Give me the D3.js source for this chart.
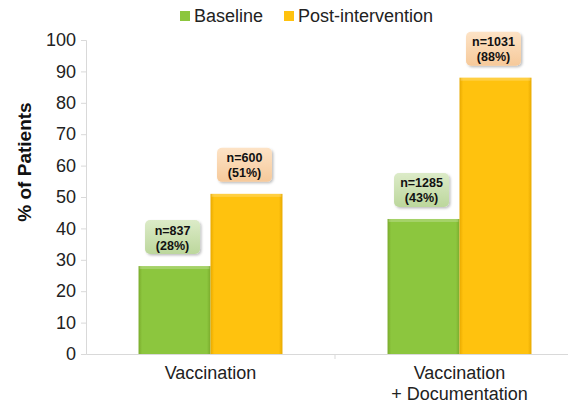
<!DOCTYPE html>
<html>
<head>
<meta charset="utf-8">
<script src="https://cdn.jsdelivr.net/npm/d3@7"></script>
<style>
  html, body { margin: 0; padding: 0; background: #fff; }
  svg { display: block; font-family: "Liberation Sans", Arial, sans-serif; }
</style>
</head>
<body>
<svg id="chart" width="568" height="403"></svg>
<script>
// Patients by intervention group and period
const categories = ["Vaccination", "Vaccination\n+ Documentation"];
const seriesNames = ["Baseline", "Post-intervention"];
const baselinePct = [28, 43];
const postPct = [51, 88];
const baselineN = [837, 1285];
const postN = [600, 1031];
const yTicks = [0, 10, 20, 30, 40, 50, 60, 70, 80, 90, 100];

const svg = d3.select("#chart");
const margin = { left: 86, top: 40, bottom: 49 };
const H = 403;
const plotW = 498;

const x = d3.scaleBand().domain(categories).range([margin.left, margin.left + plotW]).paddingInner(0).paddingOuter(0);
const xs = d3.scaleBand().domain(seriesNames).range([0, x.bandwidth()]).paddingInner(0).paddingOuter(0.73);
const y = d3.scaleLinear().domain([0, 100]).range([H - margin.bottom, margin.top]);

const defs = svg.append("defs");
function barGrad(id, edge, mid) {
  const g = defs.append("linearGradient").attr("id", id).attr("x1", 0).attr("x2", 1).attr("y1", 0).attr("y2", 0);
  g.append("stop").attr("offset", "0%").attr("stop-color", edge);
  g.append("stop").attr("offset", "5%").attr("stop-color", mid);
  g.append("stop").attr("offset", "95%").attr("stop-color", mid);
  g.append("stop").attr("offset", "100%").attr("stop-color", edge);
}
barGrad("gGreen", "#7aab2c", "#8cc63e");
barGrad("gYellow", "#e8a900", "#ffc20e");
function boxGrad(id, top, bot) {
  const g = defs.append("linearGradient").attr("id", id).attr("x1", 0).attr("x2", 0).attr("y1", 0).attr("y2", 1);
  g.append("stop").attr("offset", "0%").attr("stop-color", top);
  g.append("stop").attr("offset", "100%").attr("stop-color", bot);
}
boxGrad("bGreen", "#dcebc8", "#bcd79c");
boxGrad("bOrange", "#fde3c6", "#f6c99a");
const f = defs.append("filter").attr("id", "shadow").attr("x", "-20%").attr("y", "-20%").attr("width", "150%").attr("height", "150%");
f.append("feDropShadow").attr("dx", 1.5).attr("dy", 1.5).attr("stdDeviation", 1.2).attr("flood-color", "#000").attr("flood-opacity", 0.25);

// Y axis
const yAxis = d3.axisLeft(y).tickValues(yTicks).tickSize(5).tickPadding(5);
const gy = svg.append("g").attr("transform", `translate(${margin.left},0)`).call(yAxis);
gy.select(".domain").attr("stroke", "#d9d9d9");
gy.selectAll(".tick line").attr("stroke", "#d9d9d9");
gy.selectAll(".tick text").attr("font-size", 18).attr("fill", "#222").attr("font-family", "Liberation Sans, Arial, sans-serif");

// X axis
const gx = svg.append("g").attr("transform", `translate(0,${y(0)})`)
  .call(d3.axisBottom(x).tickSize(0).tickFormat(""));
gx.select(".domain").attr("stroke", "#d9d9d9");
gx.selectAll(".tick").remove();
// divider tick between categories
gx.append("line").attr("x1", x(categories[1])).attr("x2", x(categories[1])).attr("y1", 0).attr("y2", 5).attr("stroke", "#d9d9d9");

// Category labels
categories.forEach(c => {
  const cx = x(c) + x.bandwidth() / 2;
  const t = svg.append("text").attr("text-anchor", "middle").attr("font-size", 18).attr("fill", "#222")
    .attr("x", cx).attr("y", y(0) + 25);
  c.split("\n").forEach((line, i) => t.append("tspan").attr("x", cx).attr("dy", i ? 21 : 0).text(line));
});

// Y title
svg.append("text").attr("transform", `translate(31,${(y(0) + y(100)) / 2 - 35}) rotate(-90)`)
  .attr("text-anchor", "middle").attr("font-size", 19).attr("font-weight", "bold").attr("fill", "#111")
  .text("% of Patients");

// Bars
const rows = categories.map((c, i) => [
  { c, s: seriesNames[0], v: baselinePct[i], n: baselineN[i], fill: "url(#gGreen)", box: "url(#bGreen)" },
  { c, s: seriesNames[1], v: postPct[i], n: postN[i], fill: "url(#gYellow)", box: "url(#bOrange)" }
]).flat();

svg.append("g").selectAll("rect").data(rows).join("rect")
  .attr("x", d => x(d.c) + xs(d.s))
  .attr("width", xs.bandwidth())
  .attr("y", d => y(d.v))
  .attr("height", d => y(0) - y(d.v))
  .attr("fill", d => d.fill);

// top bevel highlight
svg.append("g").selectAll("rect").data(rows).join("rect")
  .attr("x", d => x(d.c) + xs(d.s) + 1)
  .attr("width", xs.bandwidth() - 2)
  .attr("y", d => y(d.v))
  .attr("height", 3)
  .attr("fill", "#fff").attr("opacity", 0.22);

// Value boxes
const bw = 55, bh = 34;
const lg = svg.append("g").selectAll("g").data(rows).join("g")
  .attr("transform", d => `translate(${x(d.c) + xs(d.s) + xs.bandwidth() / 2 - 2},${y(d.v) - 12 - bh})`);
lg.append("rect").attr("x", -bw / 2).attr("y", 0).attr("width", bw).attr("height", bh)
  .attr("rx", 5).attr("fill", d => d.box).attr("filter", "url(#shadow)");
lg.append("text").attr("text-anchor", "middle").attr("y", 14.5).attr("font-size", 12.5).attr("font-weight", "bold").attr("fill", "#111")
  .text(d => `n=${d.n}`);
lg.append("text").attr("text-anchor", "middle").attr("y", 29.5).attr("font-size", 12.5).attr("font-weight", "bold").attr("fill", "#111")
  .text(d => `(${d.v}%)`);

// Legend
const legend = [
  { name: seriesNames[0], color: "#8cc63e", x: 180 },
  { name: seriesNames[1], color: "#ffc20e", x: 284 }
];
const lgG = svg.append("g").selectAll("g").data(legend).join("g").attr("transform", d => `translate(${d.x},10)`);
lgG.append("rect").attr("width", 10).attr("height", 10).attr("y", 1).attr("fill", d => d.color);
lgG.append("text").attr("x", 14).attr("y", 12).attr("font-size", 18).attr("fill", "#222").text(d => d.name);
</script>
</body>
</html>
